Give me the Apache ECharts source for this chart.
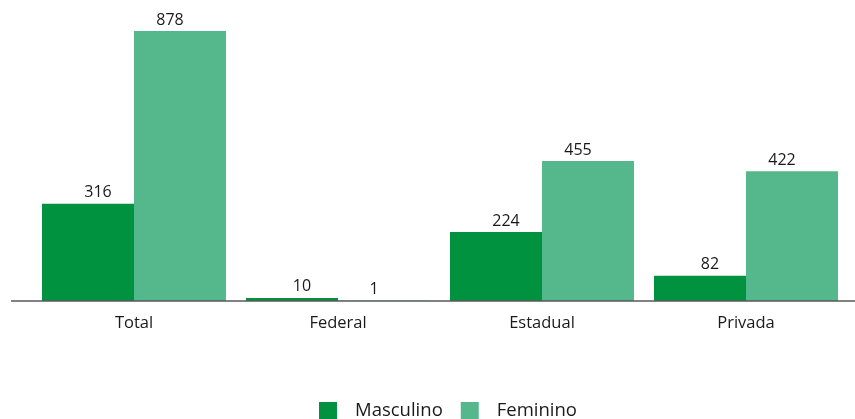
<!DOCTYPE html>
<html>
<head>
<meta charset="utf-8">
<script src="https://cdn.jsdelivr.net/npm/echarts@6/dist/echarts.min.js"></script>
<style>
  html, body { margin: 0; padding: 0; background: #ffffff; }
  #chart { width: 855px; height: 419px; }
</style>
</head>
<body>
<div id="chart"></div>
<script>
// Categories and values per sex
const categories = ['Total', 'Federal', 'Estadual', 'Privada'];
const masculino = [316, 10, 224, 82];
const feminino = [878, 1, 455, 422];
const seriesNames = ['Masculino', 'Feminino'];

const FONT = '"Open Sans", "Noto Sans", sans-serif';
const chart = echarts.init(document.getElementById('chart'), null, { renderer: 'canvas' });

function valueLabel(dx) {
  return {
    show: true,
    position: 'top',
    distance: 3,
    offset: [dx, 0],
    color: '#1a1a1a',
    fontFamily: FONT,
    fontSize: 16
  };
}

chart.setOption({
  animation: false,
  backgroundColor: '#ffffff',
  grid: { left: 32, right: 7, top: 31, bottom: 118, containLabel: false },
  legend: {
    data: seriesNames,
    top: 401,
    left: 319,
    padding: 0,
    icon: 'rect',
    itemWidth: 18,
    itemHeight: 17,
    itemGap: 18,
    textStyle: { fontFamily: FONT, fontSize: 18.5, color: '#1a1a1a', padding: [0, 0, 0, 13] }
  },
  xAxis: {
    type: 'category',
    data: categories,
    axisLine: { show: false },
    axisTick: { show: false },
    axisLabel: { fontFamily: FONT, fontSize: 16.5, color: '#1a1a1a', margin: 14 }
  },
  yAxis: {
    type: 'value',
    min: 0,
    max: 878,
    show: false,
    splitLine: { show: false }
  },
  graphic: [{
    // baseline running across the full chart width
    type: 'line',
    shape: { x1: 11, y1: 301, x2: 855, y2: 301 },
    style: { stroke: '#595959', lineWidth: 1.5 },
    z: 10
  }],
  series: [
    {
      name: seriesNames[0],
      type: 'bar',
      data: masculino,
      barGap: '0%',
      barCategoryGap: '9.8%',
      itemStyle: { color: '#00923f' },
      label: valueLabel(10)
    },
    {
      name: seriesNames[1],
      type: 'bar',
      data: feminino,
      itemStyle: { color: '#55b78c' },
      label: valueLabel(-10)
    }
  ]
});
</script>
</body>
</html>
